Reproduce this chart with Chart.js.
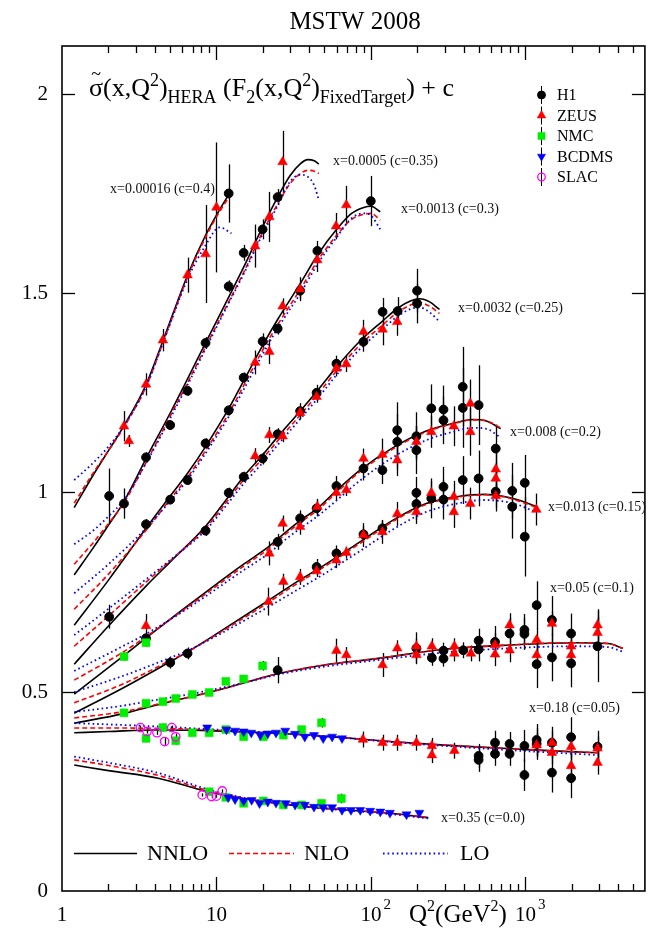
<!DOCTYPE html>
<html><head><meta charset="utf-8">
<script src="https://cdn.jsdelivr.net/npm/chart.js"></script>
<style>html,body{margin:0;padding:0;background:#fff;}canvas{display:block;}</style>
</head><body>
<canvas id="c" width="651" height="937"></canvas>
<script>
// ---------- axis ranges & ticks ----------
const Q2_MIN = 1, Q2_MAX = 5940;
const Y_MIN = 0, Y_MAX = 2.12;
const Y_TICKS = [0, 0.5, 1, 1.5, 2];
const Y_TICK_LABELS = ['0', '0.5', '1', '1.5', '2'];
const X_TICKS = [1, 10, 100, 1000];
const X_TICK_LABELS = [['1', ''], ['10', ''], ['10', '2'], ['10', '3']];
const BIN_LABELS = ['x=0.00016 (c=0.4)', 'x=0.0005 (c=0.35)', 'x=0.0013 (c=0.3)', 'x=0.0032 (c=0.25)',
  'x=0.008 (c=0.2)', 'x=0.013 (c=0.15)', 'x=0.05 (c=0.1)', 'x=0.18 (c=0.05)', 'x=0.35 (c=0.0)'];
const EXPERIMENTS = ['H1', 'ZEUS', 'NMC', 'BCDMS', 'SLAC'];
const ORDERS = ['NNLO', 'NLO', 'LO'];

// ---------- data points [Q2, value, error] ----------
const H1 = [
  [2.02,0.991,0.069],[12.0,1.750,0.073],
  [2.52,0.972,0.038],[3.5,1.088,0.013],[5.02,1.169,0.012],[6.5,1.255,0.012],[8.5,1.375,0.015],[12.0,1.517,0.015],[15.0,1.601,0.02],[19.9,1.660,0.025],[24.9,1.741,0.02],
  [3.5,0.920,0.013],[5.02,0.982,0.012],[6.5,1.031,0.012],[8.5,1.123,0.013],[12.0,1.206,0.013],[15.0,1.288,0.013],[19.9,1.379,0.02],[24.9,1.411,0.015],[34.8,1.506,0.02],[45,1.606,0.025],[99.8,1.731,0.063],
  [2.02,0.688,0.03],[8.5,0.904,0.013],[12.0,0.999,0.013],[15.0,1.039,0.013],[19.9,1.085,0.015],[24.9,1.146,0.015],[34.8,1.204,0.02],[44.5,1.25,0.02],[59.8,1.323,0.02],[89.5,1.378,0.025],[119,1.453,0.035],[149,1.455,0.035],[199,1.506,0.055],[199,1.474,0.05],
  [3.5,0.634,0.015],[24.9,0.876,0.02],[34.8,0.935,0.02],[44.5,0.960,0.02],[59.8,1.016,0.025],[89.5,1.060,0.03],[118.7,1.056,0.035],[148,1.127,0.07],[148,1.156,0.07],[197,1.106,0.06],[197,1.141,0.06],[246,1.211,0.06],[295,1.181,0.06],[295,1.208,0.06],[393,1.212,0.1],[393,1.265,0.1],[498,1.219,0.1],[643,1.110,0.06],
  [5.02,0.573,0.015],[6.5,0.596,0.015],[44.5,0.813,0.02],[59.8,0.847,0.02],[89.5,0.895,0.02],[118.7,0.910,0.02],[197,0.999,0.04],[197,0.971,0.04],[246,0.985,0.05],[295,0.982,0.05],[295,1.014,0.05],[393,1.031,0.06],[498,1.035,0.07],[643,1.002,0.05],[822,1.004,0.07],[822,0.964,0.08],[991,1.024,0.07],[991,0.889,0.1],
  [24.9,0.554,0.033],[197,0.609,0.04],[248,0.585,0.02],[295,0.603,0.02],[295,0.583,0.02],[396,0.604,0.02],[498,0.628,0.03],[498,0.606,0.03],[636,0.625,0.04],[790,0.646,0.04],[986,0.655,0.04],[986,0.645,0.04],[1183,0.717,0.06],[1183,0.569,0.06],[1486,0.68,0.06],[1486,0.586,0.06],[1977,0.646,0.05],[1977,0.571,0.06],[2931,0.614,0.09],
  [498,0.339,0.03],[498,0.329,0.03],[636,0.372,0.03],[636,0.344,0.03],[790,0.369,0.03],[790,0.344,0.03],[986,0.364,0.04],[986,0.291,0.04],[1183,0.379,0.04],[1183,0.369,0.04],[1486,0.372,0.04],[1486,0.297,0.05],[1977,0.386,0.05],[1977,0.283,0.05],[2931,0.362,0.04]
];
const ZEUS = [
  [2.52,1.166,0.038],[2.71,1.129,0.015],[3.5,1.271,0.028],[4.5,1.382,0.028],[6.5,1.545,0.044],[8.5,1.598,0.123],[10.0,1.715,0.163],
  [17.8,1.618,0.054],[22,1.691,0.063],[26.8,1.829,0.078],
  [17.8,1.326,0.03],[22,1.353,0.031],[26.8,1.467,0.02],[34.8,1.51,0.03],[45,1.583,0.03],[59.5,1.668,0.033],[69.3,1.721,0.048],
  [17.8,1.091,0.02],[22,1.144,0.02],[26.8,1.141,0.015],[34.8,1.20,0.015],[44.5,1.24,0.015],[59.8,1.311,0.02],[69.3,1.322,0.02],[89.5,1.403,0.03],[119,1.409,0.04],[148,1.428,0.035],
  [3.5,0.665,0.03],[22,0.847,0.03],[26.8,0.922,0.02],[34.8,0.914,0.02],[45,0.964,0.02],[59.8,0.999,0.02],[69.3,1.006,0.015],[89.5,1.085,0.025],[118.7,1.095,0.04],[148,1.081,0.04],[197,1.127,0.04],[246,1.152,0.04],[344,1.166,0.05],[440,1.223,0.06],[440,1.152,0.06],[643,1.058,0.05],
  [21.7,0.726,0.035],[27.1,0.776,0.02],[34.8,0.788,0.02],[44.5,0.803,0.015],[59.8,0.83,0.02],[69.3,0.849,0.015],[89.5,0.893,0.03],[118.7,0.901,0.03],[148,0.946,0.03],[197,0.951,0.03],[246,0.999,0.03],[344,0.989,0.04],[344,0.951,0.04],[440,0.972,0.04],[643,1.035,0.04],[643,0.991,0.03],[1178,0.957,0.04],
  [59.8,0.603,0.03],[69.3,0.592,0.02],[119,0.567,0.03],[148,0.609,0.02],[197,0.614,0.02],[197,0.592,0.02],[248,0.614,0.02],[347,0.614,0.02],[347,0.596,0.02],[444,0.596,0.02],[636,0.617,0.03],[636,0.594,0.03],[790,0.667,0.03],[790,0.604,0.03],[1183,0.63,0.03],[1183,0.592,0.03],[1486,0.671,0.03],[1977,0.614,0.03],[1977,0.592,0.03],[2931,0.667,0.04],[2931,0.648,0.04],
  [88.7,0.38,0.02],[119,0.372,0.02],[148,0.372,0.02],[197,0.372,0.02],[248,0.364,0.02],[248,0.341,0.02],[347,0.352,0.02],[1183,0.366,0.03],[1486,0.372,0.03],[1486,0.347,0.03],[1977,0.362,0.03],[1977,0.314,0.03],[2931,0.358,0.03],[2931,0.322,0.03]
];
const NMC = [
  [2.52,0.588,0.01],[3.5,0.623,0.01],
  [2.52,0.447,0.008],[3.5,0.471,0.008],[4.5,0.475,0.008],[5.45,0.483,0.008],[6.98,0.493,0.008],[8.97,0.498,0.008],[11.5,0.526,0.008],[15.0,0.532,0.008],[19.9,0.565,0.012],
  [3.5,0.383,0.01],[4.5,0.41,0.01],[5.45,0.377,0.01],[6.98,0.397,0.005],[8.97,0.397,0.005],[11.5,0.405,0.005],[15.0,0.387,0.005],[20.1,0.387,0.005],[27.1,0.391,0.005],[35.6,0.405,0.008],[47.9,0.422,0.012],
  [8.97,0.249,0.005],[11.5,0.235,0.005],[15.0,0.22,0.005],[20.1,0.226,0.005],[27.1,0.216,0.005],[35.6,0.216,0.005],[47.9,0.22,0.006],[64.4,0.232,0.012]
];
const BCDMS = [
  [8.71,0.41,0.004],[11.6,0.405,0.004],[13.2,0.402,0.004],[15.0,0.40,0.004],[16.8,0.397,0.004],[19.2,0.391,0.004],[21.5,0.395,0.004],[24.3,0.397,0.004],[27.9,0.402,0.004],[32.3,0.394,0.004],[37.3,0.387,0.004],[42.8,0.391,0.004],[49.1,0.383,0.004],[56.1,0.387,0.004],[65.0,0.383,0.004],
  [11.9,0.235,0.004],[13.2,0.23,0.004],[15.0,0.226,0.004],[16.9,0.228,0.004],[19.0,0.22,0.004],[21.5,0.224,0.004],[24.3,0.221,0.004],[28.1,0.22,0.004],[32.3,0.216,0.004],[37.3,0.216,0.004],[42.8,0.211,0.004],[49.1,0.21,0.004],[56.1,0.21,0.004],[65.0,0.203,0.004],[74.3,0.203,0.004],[85.3,0.203,0.004],[98.9,0.201,0.004],[115,0.199,0.004],[132.8,0.196,0.004],[170,0.192,0.004],[206,0.196,0.004]
];
const SLAC = [
  [3.22,0.41,0.005],[3.55,0.40,0.005],[4.12,0.397,0.005],[4.62,0.375,0.01],[5.14,0.41,0.005],[5.45,0.387,0.008],
  [8.09,0.241,0.004],[9.29,0.237,0.004],[10.0,0.238,0.004],[10.9,0.251,0.004]
];

// ---------- theory curves per x bin ----------
const B1_Q2 = [1.2,1.6,2.0,2.5,3.5,4.5,6.5,8.5,10.5,12.5];
const B1_NNLO = [0.962,1.045,1.105,1.165,1.27,1.38,1.545,1.645,1.71,1.758];
const B1_NLO = [0.973,1.05,1.105,1.162,1.265,1.375,1.54,1.64,1.705,1.75];
const B1_LO = [1.031,1.075,1.115,1.165,1.265,1.375,1.535,1.62,1.665,1.65];

const B2_Q2 = [1.2,1.6,2.0,2.5,3.5,5,6.5,8.5,12,15,20,25,30,35,39,43,46];
const B2_NNLO = [0.793,0.862,0.918,0.975,1.085,1.198,1.285,1.375,1.49,1.565,1.668,1.742,1.795,1.825,1.835,1.832,1.824];
const B2_NLO = [0.82,0.875,0.922,0.972,1.075,1.19,1.275,1.365,1.478,1.552,1.655,1.725,1.775,1.80,1.808,1.806,1.80];
const B2_LO = [0.87,0.905,0.94,0.98,1.073,1.185,1.27,1.36,1.475,1.548,1.65,1.72,1.78,1.797,1.792,1.77,1.733];

const B3_Q2 = [1.2,2,3.5,5,6.5,8.5,12,15,20,25,35,45,60,75,90,100,115];
const B3_NNLO = [0.667,0.78,0.91,0.99,1.048,1.115,1.21,1.28,1.37,1.435,1.525,1.595,1.66,1.70,1.715,1.718,1.704];
const B3_NLO = [0.707,0.795,0.905,0.982,1.038,1.105,1.198,1.268,1.358,1.422,1.51,1.58,1.645,1.685,1.698,1.70,1.683];
const B3_LO = [0.747,0.82,0.91,0.978,1.032,1.098,1.19,1.258,1.348,1.413,1.50,1.572,1.64,1.688,1.70,1.695,1.66];

const B4_Q2 = [1.2,2,3.5,5,8.5,12,15,20,25,35,45,60,85,119,149,180,207,240,278];
const B4_NNLO = [0.569,0.665,0.765,0.825,0.915,0.99,1.04,1.095,1.14,1.205,1.255,1.315,1.38,1.43,1.462,1.48,1.486,1.478,1.459];
const B4_NLO = [0.614,0.69,0.775,0.828,0.91,0.983,1.032,1.086,1.13,1.195,1.245,1.305,1.37,1.42,1.452,1.47,1.476,1.467,1.449];
const B4_LO = [0.642,0.708,0.782,0.83,0.905,0.975,1.022,1.075,1.12,1.185,1.235,1.295,1.36,1.41,1.442,1.46,1.464,1.452,1.428];

const B5_Q2 = [1.2,2.5,3.5,6,10,15,22,27,35,45,60,85,140,228,339,456,554,692];
const B5_NNLO = [0.494,0.59,0.635,0.705,0.77,0.82,0.865,0.895,0.93,0.96,1.005,1.056,1.113,1.154,1.173,1.183,1.18,1.16];
const B5_NLO = [0.529,0.60,0.638,0.703,0.765,0.815,0.86,0.89,0.925,0.955,1.0,1.052,1.11,1.152,1.172,1.182,1.18,1.162];
const B5_LO = [0.552,0.615,0.645,0.70,0.758,0.805,0.848,0.877,0.91,0.94,0.98,1.03,1.089,1.131,1.152,1.162,1.16,1.138];

const B6_Q2 = [1.2,2.5,5,6.5,10,20,30,52,85,140,228,360,550,700,880,1190];
const B6_NNLO = [0.446,0.51,0.575,0.60,0.645,0.72,0.765,0.822,0.876,0.931,0.972,0.989,0.995,0.991,0.982,0.964];
const B6_NLO = [0.472,0.52,0.578,0.60,0.643,0.715,0.76,0.818,0.872,0.928,0.97,0.988,0.994,0.99,0.98,0.962];
const B6_LO = [0.499,0.54,0.585,0.603,0.64,0.705,0.745,0.80,0.853,0.908,0.951,0.972,0.981,0.978,0.97,0.949];

const B7_Q2 = [1.2,2.5,3.5,5,7,10,15,25,50,109,292,783,2097,3430,4280];
const B7_NNLO = [0.421,0.445,0.46,0.475,0.488,0.503,0.522,0.545,0.567,0.583,0.606,0.617,0.623,0.621,0.609];
const B7_NLO = [0.434,0.45,0.462,0.476,0.488,0.503,0.522,0.545,0.567,0.583,0.606,0.617,0.623,0.621,0.609];
const B7_LO = [0.449,0.465,0.475,0.485,0.495,0.507,0.522,0.543,0.563,0.579,0.598,0.609,0.614,0.612,0.600];

const B8_Q2 = [1.2,2,4,8,15,30,60,133,300,1000,2100,2960];
const B8_NNLO = [0.397,0.40,0.404,0.403,0.399,0.394,0.386,0.375,0.366,0.355,0.349,0.347];
const B8_NLO = [0.409,0.409,0.408,0.405,0.40,0.394,0.386,0.375,0.366,0.355,0.349,0.347];
const B8_LO = [0.421,0.418,0.413,0.407,0.401,0.395,0.386,0.374,0.364,0.351,0.344,0.341];

const B9_Q2 = [1.2,2,4.2,8.8,15,30,60,133,235];
const B9_NNLO = [0.316,0.302,0.283,0.249,0.232,0.216,0.205,0.195,0.184];
const B9_NLO = [0.329,0.315,0.29,0.252,0.233,0.216,0.205,0.195,0.184];
const B9_LO = [0.337,0.322,0.296,0.255,0.234,0.216,0.204,0.193,0.182];

// ---------- build datasets ----------
const BINS = [
  [B1_Q2,B1_NNLO,B1_NLO,B1_LO],[B2_Q2,B2_NNLO,B2_NLO,B2_LO],[B3_Q2,B3_NNLO,B3_NLO,B3_LO],
  [B4_Q2,B4_NNLO,B4_NLO,B4_LO],[B5_Q2,B5_NNLO,B5_NLO,B5_LO],[B6_Q2,B6_NNLO,B6_NLO,B6_LO],
  [B7_Q2,B7_NNLO,B7_NLO,B7_LO],[B8_Q2,B8_NNLO,B8_NLO,B8_LO],[B9_Q2,B9_NNLO,B9_NLO,B9_LO]
];
const LINE_STYLE = {
  NNLO: {color:'#000000', dash:[], width:1.6},
  NLO: {color:'#ff0000', dash:[5,3], width:1.6},
  LO: {color:'#0000ff', dash:[1.6,3], width:1.8}
};
const MARKER = {
  H1: {style:'circle', r:4.4, fill:'#000000', stroke:'#000000', rot:0, bw:1},
  ZEUS: {style:'triangle', r:5.6, fill:'#ff0000', stroke:'#ff0000', rot:0, bw:0.5},
  NMC: {style:'rect', r:5.6, fill:'#00ee00', stroke:'#00ee00', rot:0, bw:0.5},
  BCDMS: {style:'triangle', r:5.2, fill:'#0000ff', stroke:'#0000ff', rot:180, bw:0.5},
  SLAC: {style:'circle', r:4.2, fill:'rgba(0,0,0,0)', stroke:'#ff00ff', rot:0, bw:1.3}
};
const EXP_DATA = {H1, ZEUS, NMC, BCDMS, SLAC};

const datasets = [];
EXPERIMENTS.slice().reverse().forEach(name => {
  const m = MARKER[name];
  datasets.push({
    label: name, isData: true, order: 0,
    data: EXP_DATA[name].map(p => ({x:p[0], y:p[1], err:p[2]})),
    pointStyle: m.style, pointRadius: m.r, pointRotation: m.rot,
    backgroundColor: m.fill, borderColor: m.stroke, pointBorderWidth: m.bw,
    showLine: false
  });
});
BINS.forEach((b, bi) => {
  ORDERS.forEach((ord, oi) => {
    const st = LINE_STYLE[ord];
    datasets.push({
      label: ord + ' bin' + (bi+1), isData: false, order: 1 + (2 - oi),
      data: b[0].map((q, i) => ({x:q, y:b[1+oi][i]})),
      showLine: true, pointRadius: 0, borderColor: st.color, borderWidth: st.width,
      borderDash: st.dash, cubicInterpolationMode: 'monotone', fill: false
    });
  });
});

const FONT = '"Liberation Serif","Times New Roman",serif';
function setF(ctx, size){ ctx.font = size + 'px ' + FONT; }
function seg(ctx, x1, y1, x2, y2){ ctx.beginPath(); ctx.moveTo(x1,y1); ctx.lineTo(x2,y2); ctx.stroke(); }

const errorBars = {
  id: 'errorBars',
  beforeDatasetsDraw(chart){
    const {ctx, scales:{x, y}} = chart;
    ctx.save(); ctx.strokeStyle = '#000'; ctx.lineWidth = 1.3;
    chart.data.datasets.forEach(ds => {
      if (!ds.isData) return;
      ds.data.forEach(p => {
        if (!p.err) return;
        const px = Math.round(x.getPixelForValue(p.x)) + 0.5;
        seg(ctx, px, y.getPixelForValue(p.y - p.err), px, y.getPixelForValue(p.y + p.err));
      });
    });
    ctx.restore();
  }
};

const decor = {
  id: 'decor',
  afterDraw(chart){
    const {ctx, chartArea:a, scales:{x, y}} = chart;
    ctx.save();
    ctx.strokeStyle = '#000'; ctx.fillStyle = '#000';
    ctx.lineWidth = 1.6;
    ctx.strokeRect(a.left, a.top, a.right - a.left, a.bottom - a.top);
    ctx.lineWidth = 1.3;
    // y ticks & labels
    setF(ctx, 21); ctx.textAlign = 'right'; ctx.textBaseline = 'middle';
    Y_TICKS.forEach((v, i) => {
      const py = Math.round(y.getPixelForValue(v)) + 0.5;
      if (v > 0) { seg(ctx, a.left, py, a.left + 13, py); seg(ctx, a.right, py, a.right - 13, py); }
      ctx.fillText(Y_TICK_LABELS[i], 48, py);
    });
    // x ticks
    for (let d = 0; d < 4; d++) {
      for (let m = 1; m < 10; m++) {
        const q = m * Math.pow(10, d);
        if (q >= Q2_MAX) break;
        const px = Math.round(x.getPixelForValue(q)) + 0.5;
        const len = m === 1 ? 14 : 7;
        if (q > Q2_MIN) { seg(ctx, px, a.bottom, px, a.bottom - len); seg(ctx, px, a.top, px, a.top + len); }
      }
    }
    // x labels
    ctx.textBaseline = 'alphabetic';
    X_TICKS.forEach((q, i) => {
      const px = x.getPixelForValue(q);
      setF(ctx, 21); ctx.textAlign = 'center';
      const [base, sup] = X_TICK_LABELS[i];
      ctx.fillText(base, px, 921);
      if (sup) {
        const w = ctx.measureText(base).width;
        setF(ctx, 15); ctx.textAlign = 'left';
        ctx.fillText(sup, px + w/2 + 2, 909);
      }
    });
    // axis title Q2(GeV2)
    let cx = 409;
    const parts = [['Q',25,0],['2',16,-11],['(GeV',25,0],['2',16,-11],[')',25,0]];
    ctx.textAlign = 'left';
    parts.forEach(([s, sz, dy]) => { setF(ctx, sz); ctx.fillText(s, cx, 922 + dy); cx += ctx.measureText(s).width; });

    // title
    setF(ctx, 25); ctx.textAlign = 'center';
    ctx.fillText('MSTW 2008', 355, 29);

    // formula
    const S = 26, s = 18, base = 96;
    cx = 89;
    const f = [['\u03C3',S,0],['(x,Q',S,0],['2',s,-10],[')',S,0],['HERA',s,7],[' (F',S,0],['2',s,7],['(x,Q',S,0],['2',s,-10],[')',S,0],['FixedTarget',s,7],[') + c',S,0]];
    ctx.textAlign = 'left';
    f.forEach(([t, sz, dy], i) => {
      setF(ctx, sz); ctx.fillText(t, cx, base + dy);
      const w = ctx.measureText(t).width;
      if (i === 0) { setF(ctx, 18); ctx.textAlign = 'center'; ctx.fillText('~', cx + w/2, base - 16); ctx.textAlign = 'left'; }
      cx += w;
    });

    // bin labels
    const LPOS = [[110,189],[333,161],[401,209],[458,308],[510,432],[548,507],[550,588],[529,708],[441,818]];
    setF(ctx, 14); ctx.textAlign = 'left'; ctx.textBaseline = 'middle'; ctx.fillStyle = '#111';
    BIN_LABELS.forEach((t, i) => ctx.fillText(t, LPOS[i][0], LPOS[i][1]));

    // experiment legend (top right)
    EXPERIMENTS.forEach((name, i) => {
      const m = MARKER[name];
      const lx = 541.5, ly = 95 + i * 20.5;
      ctx.lineWidth = 1; ctx.strokeStyle = '#000';
      seg(ctx, lx, ly - 9, lx, ly + 9);
      ctx.save(); ctx.fillStyle = m.fill; ctx.strokeStyle = m.stroke; ctx.lineWidth = m.bw;
      Chart.helpers.drawPoint(ctx, {pointStyle: m.style, radius: m.r * 0.9, rotation: m.rot, borderWidth: m.bw}, lx, ly);
      ctx.restore();
      setF(ctx, 16); ctx.fillStyle = '#000'; ctx.textAlign = 'left'; ctx.textBaseline = 'middle';
      ctx.fillText(name, 557, ly + 1);
    });

    // order legend (bottom)
    const LX = [[74,137,147],[229,294,304],[383,448,460]];
    ORDERS.forEach((ord, i) => {
      const st = LINE_STYLE[ord];
      ctx.strokeStyle = st.color; ctx.lineWidth = st.width; ctx.setLineDash(st.dash);
      seg(ctx, LX[i][0], 853.5, LX[i][1], 853.5);
      ctx.setLineDash([]);
      setF(ctx, 22); ctx.fillStyle = '#000'; ctx.textAlign = 'left'; ctx.textBaseline = 'middle';
      ctx.fillText(ord, LX[i][2], 854.5);
    });
    ctx.restore();
  }
};

new Chart(document.getElementById('c'), {
  type: 'scatter',
  data: { datasets },
  options: {
    responsive: false, devicePixelRatio: 1, animation: false,
    layout: { padding: { left: 62, right: 1, top: 46, bottom: 46 } },
    plugins: { legend: { display: false }, tooltip: { enabled: false } },
    scales: {
      x: { type: 'logarithmic', min: Q2_MIN, max: Q2_MAX, display: false },
      y: { type: 'linear', min: Y_MIN, max: Y_MAX, display: false }
    }
  },
  plugins: [errorBars, decor]
});
</script>
</body></html>
